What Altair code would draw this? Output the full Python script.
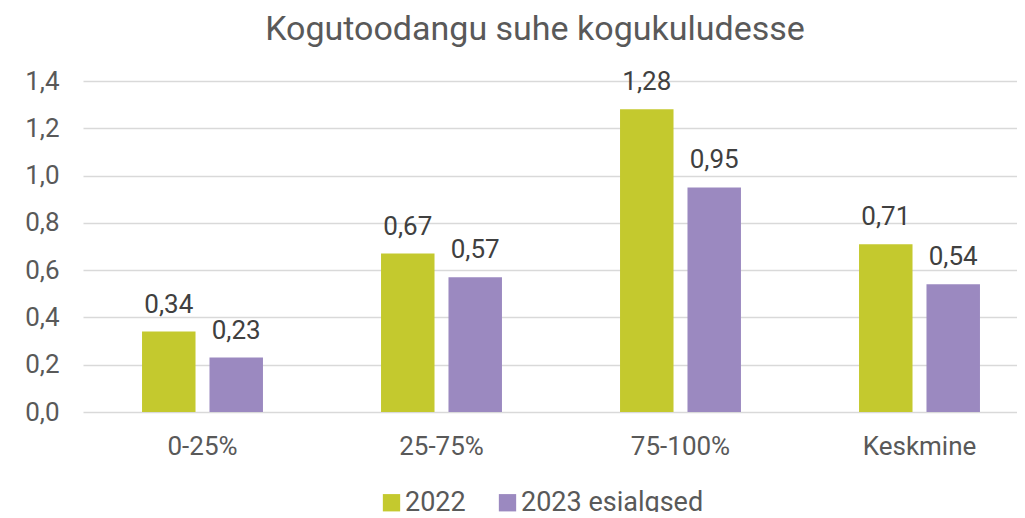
import altair as alt
import pandas as pd

categories = ["0-25%", "25-75%", "75-100%", "Keskmine"]
series_names = ["2022", "2023 esialgsed"]
values_2022 = [0.34, 0.67, 1.28, 0.71]
values_2023 = [0.23, 0.57, 0.95, 0.54]
colors = ["#C4C92E", "#9B89C0"]
y_ticks = [0.0, 0.2, 0.4, 0.6, 0.8, 1.0, 1.2, 1.4]

rows = []
for c, a, b in zip(categories, values_2022, values_2023):
    rows.append({"cat": c, "series": series_names[0], "value": a})
    rows.append({"cat": c, "series": series_names[1], "value": b})
df = pd.DataFrame(rows)

FONT = "Roboto"
W, H = 934, 331

x = alt.X("cat:N", sort=categories, title=None,
          scale=alt.Scale(range=[0, 956], paddingInner=0.494, paddingOuter=0.247),
          axis=alt.Axis(labelAngle=0, ticks=False, domain=False, labelPadding=21,
                        labelFontSize=26, labelColor="#595959", labelFont=FONT))
xo = alt.XOffset("series:N", sort=series_names,
                 scale=alt.Scale(paddingInner=0.207, paddingOuter=0))
y = alt.Y("value:Q", title=None,
          scale=alt.Scale(domain=[0, 1.4], nice=False),
          axis=alt.Axis(values=y_ticks, ticks=False, domain=False, labelPadding=24,
                        labelFontSize=26, labelColor="#595959", labelFont=FONT,
                        gridColor="#D9D9D9", gridWidth=1.5,
                        labelExpr="replace(format(datum.value, '.1f'), '.', ',')"))

bars = alt.Chart(df).mark_bar().encode(
    x=x, xOffset=xo, y=y,
    color=alt.Color("series:N", sort=series_names,
                    scale=alt.Scale(domain=series_names, range=colors),
                    legend=alt.Legend(title=None, orient="none", direction="horizontal",
                                      legendX=295, legendY=408,
                                      symbolType="square", symbolSize=300,
                                      symbolStrokeWidth=0, labelFontSize=27,
                                      labelColor="#595959", labelFont=FONT,
                                      labelLimit=400,
                                      labelOffset=0, columnPadding=28)),
)

labels = alt.Chart(df).transform_calculate(
    lbl="replace(format(datum.value, '.2f'), '.', ',')"
).mark_text(baseline="bottom", dy=-14, fontSize=26, color="#404040", font=FONT).encode(
    x=x, xOffset=xo, y=y, text="lbl:N"
)

chart = (bars + labels).properties(
    width=W, height=H,
    autosize=alt.AutoSizeParams(type="none"),
    padding={"left": 75, "top": 73, "right": 0, "bottom": 100},
    title=alt.TitleParams("Kogutoodangu suhe kogukuludesse", fontSize=34,
                          font=FONT, fontWeight="normal", color="#595959",
                          anchor="middle", dx=-15, offset=21),
).configure_view(stroke=None)

chart.save("out.html", embed_options={"renderer": "svg", "actions": False})
